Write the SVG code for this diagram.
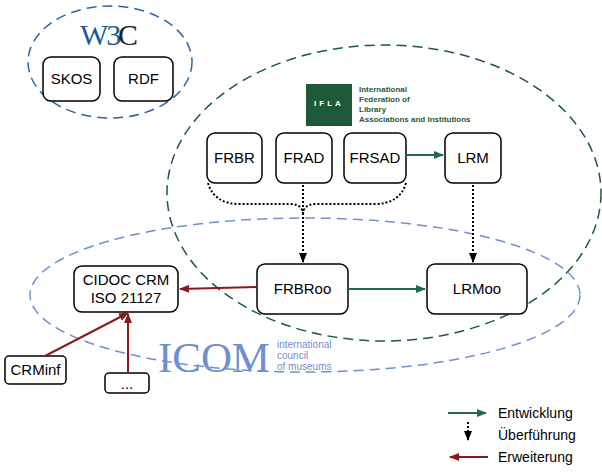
<svg xmlns="http://www.w3.org/2000/svg" width="602" height="473" viewBox="0 0 602 473">
<defs>
<style>
.box{fill:#fff;stroke:#000;stroke-width:1.5}
.t{font-family:"Liberation Sans",Arial,sans-serif;font-size:15px;fill:#000;text-anchor:middle}
.g{stroke:#1e6b45;stroke-width:2;fill:none}
.r{stroke:#8b1a1a;stroke-width:2;fill:none}
.d{stroke:#000;stroke-width:2;stroke-dasharray:2 2;fill:none}
.lg{font-family:"Liberation Sans",Arial,sans-serif;font-size:14px;fill:#000}
</style>
<marker id="ag" viewBox="0 0 10 10" refX="9" refY="5" markerWidth="5" markerHeight="5" orient="auto"><path d="M0,1 L10,5 L0,9 z" fill="#1e6b45"/></marker>
<marker id="ar" viewBox="0 0 10 10" refX="9" refY="5" markerWidth="5" markerHeight="5" orient="auto"><path d="M0,1 L10,5 L0,9 z" fill="#8b1a1a"/></marker>
<marker id="ad" viewBox="0 0 10 10" refX="9" refY="5" markerWidth="5" markerHeight="5" orient="auto"><path d="M0,1 L10,5 L0,9 z" fill="#000"/></marker>
</defs>
<rect width="602" height="473" fill="#fff"/>
<g id="groups">
<ellipse cx="110" cy="62" rx="82" ry="56" fill="none" stroke="#2e64a0" stroke-width="1.5" stroke-dasharray="10 6"/>
<ellipse cx="384" cy="193" rx="217" ry="148" fill="none" stroke="#1e5a3a" stroke-width="1.5" stroke-dasharray="10 6"/>
<ellipse cx="305" cy="295" rx="275" ry="77" fill="none" stroke="#7090cc" stroke-width="1.5" stroke-dasharray="10 6"/>
</g>
<g id="logos">
<text x="80" y="45" font-family="Liberation Serif,serif" font-size="30" fill="#1a5a9a" letter-spacing="-2">W3</text>
<text x="118" y="45" font-family="Liberation Serif,serif" font-size="30" fill="#222">C</text>
<rect x="306" y="84" width="46" height="42" fill="#1e5a3a"/>
<text x="329" y="106" font-family="Liberation Sans,sans-serif" font-size="8" font-weight="bold" fill="#fff" text-anchor="middle" letter-spacing="3">IFLA</text>
<g font-family="Liberation Sans,sans-serif" font-size="8" font-weight="bold" fill="#1e5a3a">
<text x="359" y="92">International</text><text x="359" y="102">Federation of</text><text x="359" y="112">Library</text><text x="359" y="122">Associations and Institutions</text></g>
<text x="158" y="372" font-family="Liberation Serif,serif" font-size="42" fill="#6f8fcf" textLength="112" lengthAdjust="spacingAndGlyphs">ICOM</text>
<g font-family="Liberation Sans,sans-serif" font-size="10" fill="#6f8fcf">
<text x="277" y="348">international</text><text x="277" y="359">council</text><text x="277" y="370">of museums</text></g>
</g>
<g id="n-skos"><rect class="box" x="43" y="57" width="57" height="44" rx="8"/><text class="t" x="71.5" y="84">SKOS</text></g>
<g id="n-rdf"><rect class="box" x="114" y="57" width="59" height="44" rx="8"/><text class="t" x="143.5" y="84">RDF</text></g>
<g id="n-frbr"><rect class="box" x="207" y="133" width="55" height="50" rx="8"/><text class="t" x="234.5" y="163">FRBR</text></g>
<g id="n-frad"><rect class="box" x="276" y="133" width="56" height="50" rx="8"/><text class="t" x="304" y="163">FRAD</text></g>
<g id="n-frsad"><rect class="box" x="344" y="133" width="62" height="50" rx="8"/><text class="t" x="375" y="163">FRSAD</text></g>
<g id="n-lrm"><rect class="box" x="445" y="133" width="56" height="50" rx="8"/><text class="t" x="473" y="163">LRM</text></g>
<g id="n-frbroo"><rect class="box" x="257" y="264" width="91" height="50" rx="8"/><text class="t" x="302.5" y="294">FRBRoo</text></g>
<g id="n-lrmoo"><rect class="box" x="427" y="264" width="100" height="50" rx="8"/><text class="t" x="477" y="294">LRMoo</text></g>
<g id="n-cidoc"><rect class="box" x="74" y="266" width="104" height="46" rx="8"/><text class="t" x="126" y="285">CIDOC CRM</text><text class="t" x="126" y="303">ISO 21127</text></g>
<g id="n-crminf"><rect class="box" x="5" y="356" width="61" height="28" rx="4"/><text class="t" x="35.5" y="375">CRMinf</text></g>
<g id="n-more"><rect class="box" x="105" y="373" width="44" height="20" rx="4"/><text class="t" x="127" y="389">...</text></g>
<g id="connectors">
<line class="g" x1="406" y1="155" x2="443" y2="155" marker-end="url(#ag)"/>
<line class="g" x1="348" y1="289" x2="425" y2="289" marker-end="url(#ag)"/>
<path class="d" d="M208,183 Q214,204 240,204 L290,204 Q303,204 303,215"/>
<path class="d" d="M406,183 Q400,204 374,204 L316,204 Q303,204 303,215"/>
<line class="d" x1="303" y1="185" x2="303" y2="262" marker-end="url(#ad)"/>
<line class="d" x1="473" y1="185" x2="473" y2="262" marker-end="url(#ad)"/>
<line class="r" x1="257" y1="287" x2="180" y2="289" marker-end="url(#ar)"/>
<line class="r" x1="45" y1="356" x2="128" y2="313" marker-end="url(#ar)"/>
<line class="r" x1="128" y1="373" x2="128" y2="314" marker-end="url(#ar)"/>
</g>
<g id="legend">
<line class="g" x1="448" y1="413" x2="486" y2="413" marker-end="url(#ag)"/>
<line class="d" x1="468" y1="422" x2="468" y2="440" marker-end="url(#ad)"/>
<line class="r" x1="488" y1="457" x2="450" y2="457" marker-end="url(#ar)"/>
<text class="lg" x="498" y="418">Entwicklung</text>
<text class="lg" x="498" y="440">Überführung</text>
<text class="lg" x="498" y="462">Erweiterung</text>
</g>
</svg>
